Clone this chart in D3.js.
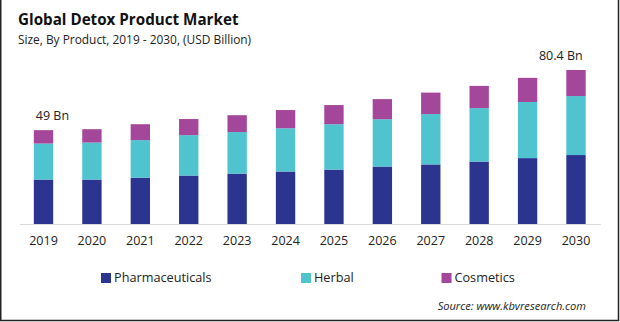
<!DOCTYPE html>
<html>
<head>
<meta charset="utf-8">
<script src="https://cdn.jsdelivr.net/npm/d3@7"></script>
<style>
  html, body { margin: 0; padding: 0; background: #fff; }
  svg { display: block; font-family: "Open Sans", sans-serif; }
</style>
</head>
<body>
<div id="chart"></div>
<script>
// ── Data ───────────────────────────────────────────────────────────────────
const years = ["2019", "2020", "2021", "2022", "2023", "2024",
               "2025", "2026", "2027", "2028", "2029", "2030"];
const pharmaceuticals = [23.2, 23.2, 24.2, 25.3, 26.3, 27.4, 28.4, 30.0, 31.1, 32.6, 34.4, 36.0];
const herbal          = [18.8, 19.3, 19.6, 21.1, 21.7, 22.6, 23.7, 24.7, 26.3, 27.9, 29.3, 30.8];
const cosmetics       = [ 7.0,  7.0,  8.3,  8.4,  8.8,  9.5, 10.0, 10.5, 11.2, 11.6, 12.6, 13.6];
const seriesNames  = ["Pharmaceuticals", "Herbal", "Cosmetics"];
const seriesColors = ["#2B3590", "#4FC4CF", "#A4479A"];
const valueLabels  = [{ year: "2019", text: "49 Bn" }, { year: "2030", text: "80.4 Bn" }];

// ── Setup ──────────────────────────────────────────────────────────────────
const W = 620, H = 322;
const svg = d3.select("#chart").append("svg")
  .attr("width", W)
  .attr("height", H);

// frame (left, right, bottom)
svg.append("path")
  .attr("d", `M0.75,0 V${H - 1.5} H${W - 1.5} V0`)
  .attr("fill", "none")
  .attr("stroke", "#222")
  .attr("stroke-width", 1.5);

// titles
svg.append("text")
  .attr("x", 18).attr("y", 25)
  .attr("font-size", 15.2).attr("font-weight", "bold")
  .attr("fill", "#111")
  .text("Global Detox Product Market");

svg.append("text")
  .attr("x", 18).attr("y", 43.5)
  .attr("font-size", 11.9)
  .attr("fill", "#222")
  .text("Size, By Product, 2019 - 2030, (USD Billion)");

// ── Scales ─────────────────────────────────────────────────────────────────
const rows = years.map((y, i) => ({
  year: y,
  Pharmaceuticals: pharmaceuticals[i],
  Herbal: herbal[i],
  Cosmetics: cosmetics[i],
}));
const totals = rows.map(r => r.Pharmaceuticals + r.Herbal + r.Cosmetics);

const x = d3.scaleBand()
  .domain(years)
  .range([19.3, 600.2])
  .paddingInner(0.6)
  .paddingOuter(0.3);

const y = d3.scaleLinear()
  .domain([0, d3.max(totals)])
  .range([224, 70]);

const stack = d3.stack().keys(seriesNames);
const layers = stack(rows);

// ── Bars ───────────────────────────────────────────────────────────────────
svg.append("g")
  .selectAll("g")
  .data(layers)
  .join("g")
    .attr("fill", (d, i) => seriesColors[i])
  .selectAll("rect")
  .data(d => d)
  .join("rect")
    .attr("x", d => x(d.data.year))
    .attr("width", x.bandwidth())
    .attr("y", d => y(d[1]))
    .attr("height", d => y(d[0]) - y(d[1]));

// ── Axis ───────────────────────────────────────────────────────────────────
const axis = svg.append("g")
  .attr("transform", `translate(0,${y(0)})`)
  .call(d3.axisBottom(x).tickSize(0).tickPadding(12));
axis.select(".domain").attr("stroke", "#d9d9d9").attr("stroke-width", 1);
axis.selectAll("text")
  .attr("font-family", "Open Sans, sans-serif")
  .attr("font-size", 12.5)
  .attr("fill", "#222");

// ── Value labels (first one starts at its bar, last one ends at its bar) ──
svg.append("g")
  .selectAll("text")
  .data(valueLabels)
  .join("text")
    .attr("x", (d, i) => i === 0 ? x(d.year) + 2 : x(d.year) + x.bandwidth() - 3)
    .attr("y", d => y(totals[years.indexOf(d.year)]) - 10)
    .attr("text-anchor", (d, i) => i === 0 ? "start" : "end")
    .attr("font-size", 12.5)
    .attr("fill", "#222")
    .text(d => d.text);

// ── Legend ─────────────────────────────────────────────────────────────────
const legendX = [101, 301, 441.5];
const legend = svg.append("g")
  .selectAll("g")
  .data(seriesNames)
  .join("g")
    .attr("transform", (d, i) => `translate(${legendX[i]},278)`);
legend.append("rect")
  .attr("x", 0).attr("y", -5)
  .attr("width", 10).attr("height", 10)
  .attr("fill", (d, i) => seriesColors[i]);
legend.append("text")
  .attr("x", 13).attr("y", 0)
  .attr("dy", "0.35em")
  .attr("font-size", 12.7)
  .attr("fill", "#222")
  .text(d => d);

// source
svg.append("text")
  .attr("x", 586).attr("y", 310)
  .attr("text-anchor", "end")
  .attr("font-size", 11.1)
  .attr("font-style", "italic")
  .attr("fill", "#222")
  .text("Source: www.kbvresearch.com");
</script>
</body>
</html>
